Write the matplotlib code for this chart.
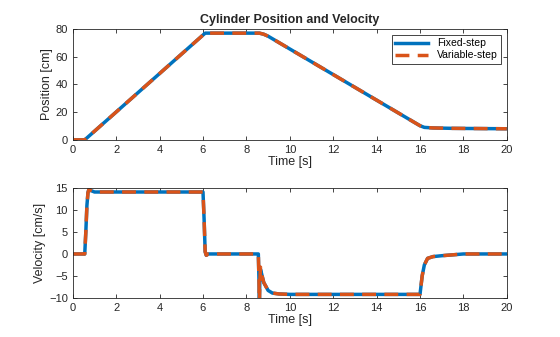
import matplotlib.pyplot as plt

plt.rcParams['font.family'] = ['Liberation Sans', 'DejaVu Sans']

# position data
t_pos = [0, 0.55, 6.1, 8.6, 8.8, 9.0, 16.0, 16.2, 16.6, 17.5, 20]
p_fixed = [0, 0, 77, 77, 76.2, 74.8, 10.2, 9.0, 8.6, 8.3, 8.0]
p_var = [0, 0, 77, 77, 76.2, 74.8, 10.2, 9.0, 8.6, 8.3, 8.0]

# velocity data
t_vel = [0, 0.55, 0.6, 0.65, 0.7, 0.75, 0.85, 1.0, 6.0, 6.05, 6.1, 6.15, 6.25,
         8.55, 8.58, 8.6, 8.62, 8.65, 8.7, 8.8, 9.0, 9.2, 9.5, 10.0,
         16.0, 16.1, 16.2, 16.35, 16.6, 17.0, 17.5, 18.0, 20]
v_fixed = [0, 0, 5, 11, 14, 14.8, 14.4, 14.1, 14.1, 8, 0.5, -0.3, 0,
           0, -6, -11, -6, -3.5, -4.5, -6.5, -8.3, -8.9, -9.1, -9.2,
           -9.2, -5, -2.5, -1, -0.6, -0.4, -0.2, 0, 0]
v_var = [0, 0, 5, 11, 14, 14.8, 14.4, 14.1, 14.1, 8, 0.5, -0.3, 0,
         0, -6, -11, -6, -3, -4.5, -6.5, -8.3, -8.9, -9.1, -9.2,
         -9.2, -5, -2.5, -1, -0.6, -0.4, -0.2, 0, 0]

blue = '#0072BD'
orange = '#D95319'
axcol = '#262626'

fig = plt.figure(figsize=(5.6, 3.37), dpi=100)
ax1 = fig.add_axes([0.130, 0.585, 0.775, 0.329])
ax2 = fig.add_axes([0.130, 0.116, 0.775, 0.326])

def style(ax):
    ax.tick_params(direction='in', top=True, right=True, labelsize=8, length=3,
                   width=0.6, colors=axcol, labelcolor=axcol)
    for s in ax.spines.values():
        s.set_color(axcol)
        s.set_linewidth(0.6)
    ax.set_xlim(0, 20)
    ax.set_xticks(range(0, 21, 2))

ax1.plot(t_pos, p_fixed, color=blue, lw=2.5, label='Fixed-step')
ax1.plot(t_pos, p_var, color=orange, lw=2.5, ls=(0, (4, 2.4)), label='Variable-step')
style(ax1)
ax1.set_ylim(0, 80)
ax1.set_yticks(range(0, 81, 20))
ax1.set_xlabel('Time [s]', fontsize=9, color=axcol, labelpad=1)
ax1.set_ylabel('Position [cm]', fontsize=9, color=axcol, labelpad=2)
ax1.set_title('Cylinder Position and Velocity', fontsize=9, fontweight='bold',
              color=axcol, pad=4)
leg = ax1.legend(loc='upper right', fontsize=7.5, fancybox=False, framealpha=1,
                 edgecolor=axcol, handlelength=3.2, borderaxespad=0.6,
                 borderpad=0.3, labelspacing=0.2)
leg.get_frame().set_linewidth(0.6)

ax2.plot(t_vel, v_fixed, color=blue, lw=2.5)
ax2.plot(t_vel, v_var, color=orange, lw=2.5, ls=(0, (4, 2.4)))
style(ax2)
ax2.set_ylim(-10, 15)
ax2.set_yticks(range(-10, 16, 5))
ax2.set_xlabel('Time [s]', fontsize=9, color=axcol, labelpad=1)
ax2.set_ylabel('Velocity [cm/s]', fontsize=9, color=axcol, labelpad=2)

fig.savefig('out.png', dpi=100)
